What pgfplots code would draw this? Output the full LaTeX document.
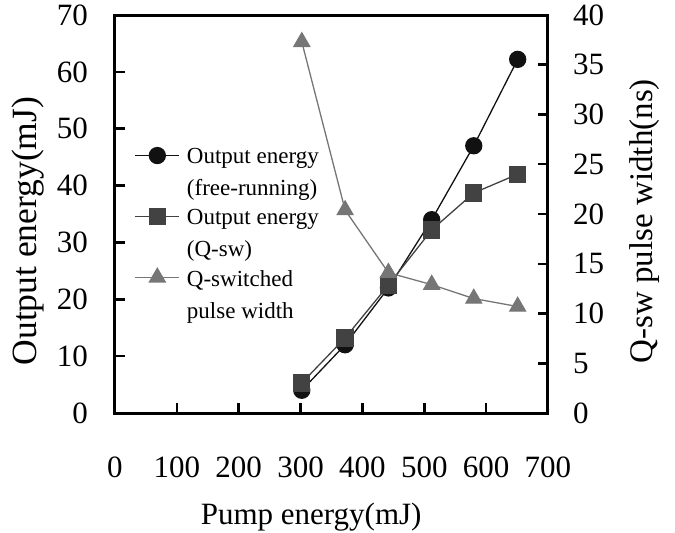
\documentclass[border=0pt]{standalone}
\usepackage{fontspec}
\setmainfont{Liberation Serif}
\usepackage{pgfplots}
\pgfplotsset{compat=1.18}
\definecolor{cA}{HTML}{111111}
\definecolor{cB}{HTML}{424242}
\definecolor{cC}{HTML}{767676}
\begin{document}
\begin{tikzpicture}
\path[use as bounding box] (-115pt,-120pt) rectangle (560pt,413pt);
\pgfplotsset{
 base/.style={
  scale only axis, width=433pt, height=398pt, at={(0pt,0pt)}, anchor=south west,
  xmin=0, xmax=700,
  axis line style={line width=3pt, black},
  every tick/.style={line width=2.5pt, black},
  major tick length=10pt, tick align=inside,
  /pgf/number format/assume math mode=true,
  ticklabel style={font=\fontsize{31}{31}\selectfont, inner sep=0pt},
 }}
\begin{axis}[base,
  ymin=0, ymax=70,
  xtick={0,100,...,700}, ytick={0,10,...,70},
  xtick pos=bottom, ytick pos=left,
  xticklabel style={anchor=center, yshift=-54pt},
  yticklabel style={anchor=east, xshift=-27pt},
  xlabel={Pump energy(mJ)},
  xlabel style={at={(axis description cs:0.453,-0.261)}, anchor=center, font=\fontsize{31}{31}\selectfont},
  ylabel={Output energy(mJ)},
  ylabel style={at={(axis description cs:-0.201,0.457)}, anchor=center, font=\fontsize{35.5}{35.5}\selectfont},
  legend style={at={(axis description cs:0.045,0.670)}, anchor=north west,
    draw=none, fill=none, inner sep=0pt, row sep=8pt, column sep=5pt,
    font=\fontsize{23}{32}\selectfont, cells={anchor=north west, align=left},
    /tikz/every even column/.append style={inner ysep=0pt},
    /tikz/every odd column/.append style={yshift=-9pt}},
  legend image code/.code={\draw[mark repeat=2,mark phase=2] plot coordinates {(0pt,0pt)(22pt,0pt)(44pt,0pt)};},
]
\addplot[cA, line width=1.3pt, mark=*, mark size=8pt, mark options={fill=cA, draw=cA}] coordinates {
 (302,4.0) (372,12.0) (442,22.0) (512,34.0) (580,47.0) (651,62.2)};
\addlegendentry{Output energy\\(free-running)}
\addplot[cB, line width=1.3pt, mark=square*, mark size=8pt, mark options={fill=cB, draw=cB}] coordinates {
 (302,5.3) (372,13.2) (442,22.5) (512,32.2) (580,38.7) (651,42.0)};
\addlegendentry{Output energy\\(Q-sw)}
\addlegendimage{cC, line width=1.3pt, mark=triangle*, mark size=9pt, mark options={fill=cC, draw=cC}}
\addlegendentry{Q-switched\\pulse width}
\end{axis}
\begin{axis}[base,
  ymin=0, ymax=40, ytick={0,5,...,40},
  axis y line*=right, axis x line=none,
  yticklabel style={anchor=west, xshift=25pt},
  ylabel={Q-sw pulse width(ns)},
  ylabel style={at={(axis description cs:1.222,0.482)}, anchor=center, font=\fontsize{33}{33}\selectfont},
]
\addplot[cC, line width=1.3pt, mark=triangle*, mark size=9pt, mark options={fill=cC, draw=cC}] coordinates {
 (302,37.3) (372,20.4) (442,14.1) (512,12.9) (580,11.5) (651,10.7)};
\end{axis}
\end{tikzpicture}
\end{document}
